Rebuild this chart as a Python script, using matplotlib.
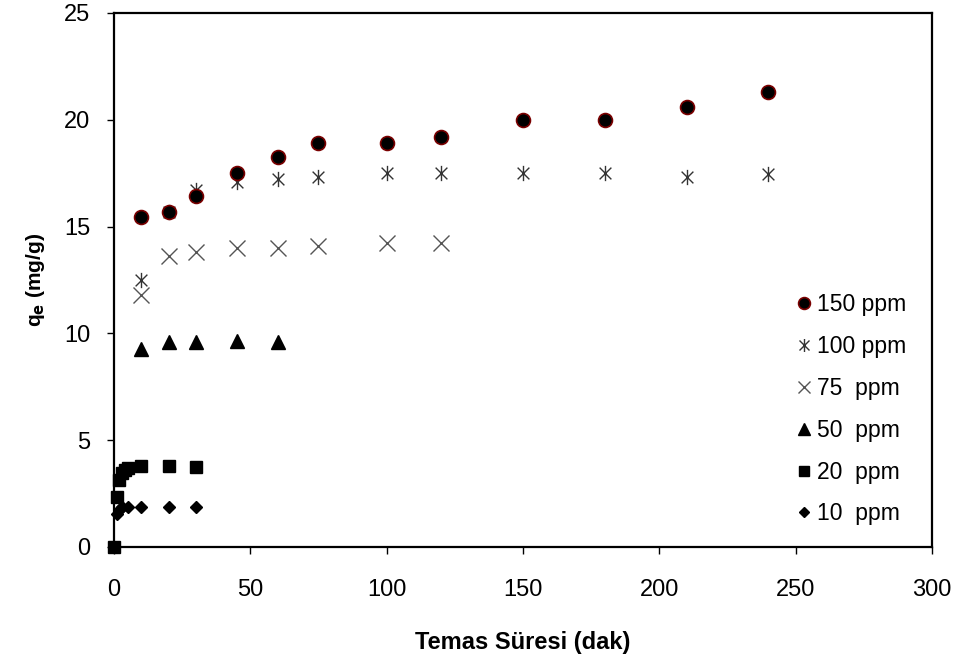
import numpy as np
import matplotlib.pyplot as plt
from matplotlib.path import Path

plt.rcParams['font.family'] = ['Liberation Sans', 'DejaVu Sans']

# veri (temas suresi dak, qe mg/g)
t150 = [10, 20, 30, 45, 60, 75, 100, 120, 150, 180, 210, 240]
q150 = [15.45, 15.7, 16.45, 17.5, 18.27, 18.93, 18.93, 19.2, 20.0, 19.97, 20.6, 21.3]

t100 = [10, 20, 30, 45, 60, 75, 100, 120, 150, 180, 210, 240]
q100 = [12.5, 15.7, 16.7, 17.1, 17.23, 17.3, 17.5, 17.53, 17.5, 17.53, 17.3, 17.45]

t75 = [10, 20, 30, 45, 60, 75, 100, 120]
q75 = [11.8, 13.6, 13.8, 14.0, 14.0, 14.1, 14.25, 14.25]

t50 = [10, 20, 30, 45, 60]
q50 = [9.25, 9.6, 9.6, 9.65, 9.6]

t20 = [0, 1, 2, 3, 4, 5, 10, 20, 30]
q20 = [0, 2.35, 3.15, 3.45, 3.6, 3.7, 3.78, 3.78, 3.75]

t10 = [0, 1, 2, 3, 5, 10, 20, 30]
q10 = [0, 1.55, 1.75, 1.85, 1.88, 1.88, 1.88, 1.88]

# excel tarzi yildiz isaretci (x + dikey cizgi)
yildiz = Path([(-1, -1), (1, 1), (-1, 1), (1, -1), (0, -1.3), (0, 1.3)],
              [Path.MOVETO, Path.LINETO, Path.MOVETO, Path.LINETO, Path.MOVETO, Path.LINETO])

fig = plt.figure(figsize=(9.61, 6.63), dpi=100)
ax = fig.add_axes([0.1186, 0.175, 0.8512, 0.8054])

ax.plot(t10, q10, 'D', ms=6.5, color='black', ls='none', clip_on=False, label='10  ppm')
ax.plot(t20, q20, 's', ms=9, color='black', ls='none', clip_on=False, label='20  ppm')
ax.plot(t50, q50, '^', ms=10, color='black', ls='none', label='50  ppm')
ax.plot(t75, q75, 'x', ms=11, mec='#555555', mew=1.0, ls='none', label='75  ppm')
ax.plot(t100, q100, ls='none', marker=yildiz, ms=11, mfc='none', mec='#333333', mew=1.0, label='100 ppm')
ax.plot(t150, q150, 'o', ms=10, mfc='black', mec='#7a0000', mew=1.2, ls='none', label='150 ppm')

ax.set_xlim(0, 300)
ax.set_ylim(0, 25)
ax.set_xticks(np.arange(0, 301, 50))
ax.set_yticks(np.arange(0, 26, 5))
ax.tick_params(direction='out', length=5, width=1, labelsize=17)
ax.tick_params(axis='x', pad=18)
ax.tick_params(axis='y', pad=12)
for s in ax.spines.values():
    s.set_linewidth(1.6)

ax.set_xlabel('Temas Süresi (dak)', fontsize=17, fontweight='bold', labelpad=22)
ax.set_ylabel('q$_\\mathbf{e}$ (mg/g)', fontsize=15, fontweight='bold', labelpad=12)

h, l = ax.get_legend_handles_labels()
ax.legend(h[::-1], l[::-1], loc='upper left', bbox_to_anchor=(0.825, 0.492), frameon=False,
          fontsize=16.5, handlelength=0.55, handletextpad=0.3, labelspacing=0.82,
          borderaxespad=0, markerscale=0.85)

plt.savefig('out.png', dpi=100)
